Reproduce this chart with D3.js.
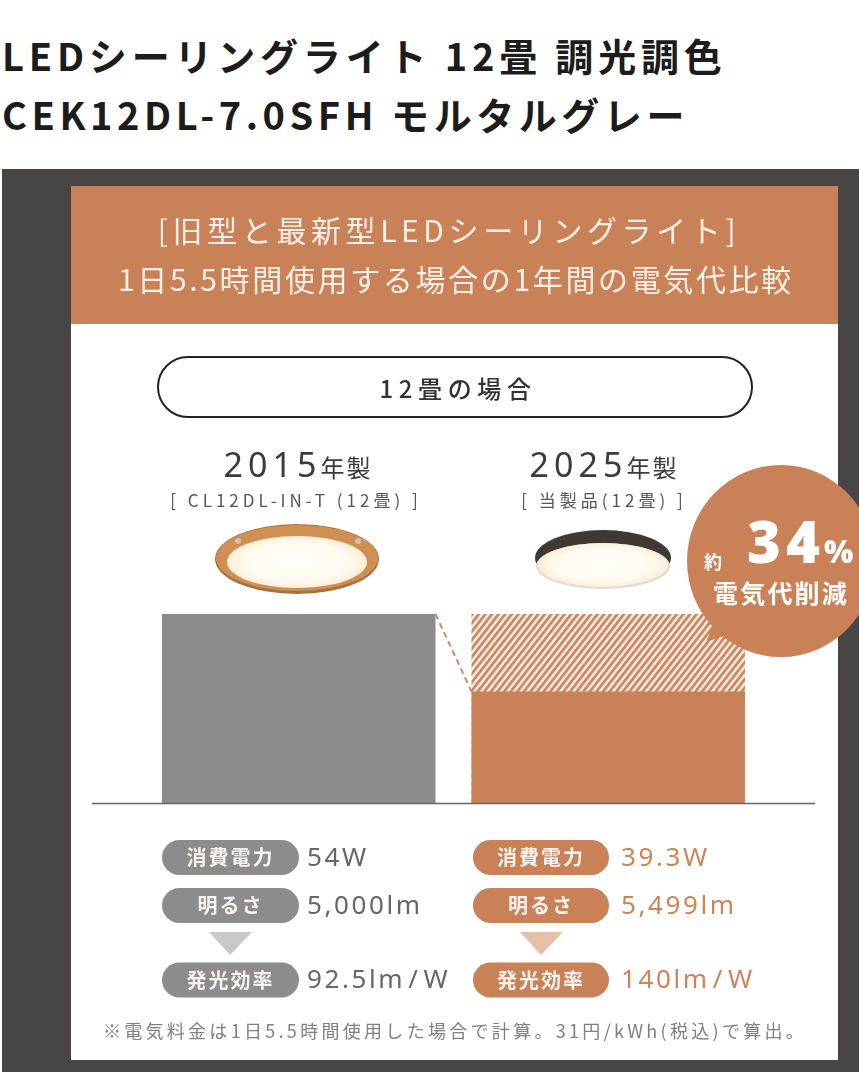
<!DOCTYPE html>
<html lang="ja"><head><meta charset="utf-8">
<script src="https://cdn.jsdelivr.net/npm/d3@7/dist/d3.min.js"></script>
<style>html,body{margin:0;padding:0;background:#fff}svg{display:block}</style></head>
<body><svg id="c" width="859" height="1080"></svg>
<script>
const titleLines = ["LEDシーリングライト 12畳 調光調色","CEK12DL-7.0SFH モルタルグレー"];
const headerLines = ["[旧型と最新型LEDシーリングライト]","1日5.5時間使用する場合の1年間の電気代比較"];
const capsule = "12畳の場合";
const years = ["2015","2025"];
const models = ["[ CL12DL-IN-T (12畳) ]","[ 当製品(12畳) ]"];
const barFull = [100,100];
const barSolid = [100,59];
const specLabels = ["消費電力","明るさ","発光効率"];
const specOld = ["54W","5,000lm","92.5lm/W"];
const specNew = ["39.3W","5,499lm","140lm/W"];
const note = "※電気料金は1日5.5時間使用した場合で計算。31円/kWh(税込)で算出。";

const ORANGE="#c98258", GREY="#8c8c8c", SANS="'Noto Sans CJK JP','Noto Sans',sans-serif";
const svg=d3.select("#c");
const defs=svg.append("defs");
const pat=defs.append("pattern").attr("id","hatch").attr("width",5.2).attr("height",5.2)
  .attr("patternUnits","userSpaceOnUse").attr("patternTransform","rotate(38)");
pat.append("rect").attr("width",5.2).attr("height",5.2).attr("fill","#fbf1ea");
pat.append("rect").attr("width",2.9).attr("height",5.2).attr("fill","#cc885f");
const rg=defs.append("radialGradient").attr("id","glow");
rg.append("stop").attr("offset","0%").attr("stop-color","#fffef9");
rg.append("stop").attr("offset","75%").attr("stop-color","#fffaf0");
rg.append("stop").attr("offset","100%").attr("stop-color","#fbeed6");
defs.append("filter").attr("id","soft").append("feGaussianBlur").attr("stdDeviation",0.45);

function txt(g,s,x,y,size,fill,o={}){
  return g.append("text").attr("x",x).attr("y",y).attr("font-size",size).attr("fill",fill)
   .attr("font-family",o.family||SANS).attr("font-weight",o.weight||400)
   .attr("letter-spacing",o.ls||0).attr("text-anchor",o.anchor||"start").text(s);
}
// title
txt(svg,titleLines[0],2,71,38,"#1c1c1c",{weight:700,ls:4.8});
txt(svg,titleLines[1],2,130,38,"#1c1c1c",{weight:700,ls:4.55});
// panel
svg.append("rect").attr("x",2).attr("y",169).attr("width",857).attr("height",903).attr("fill","#474645");
svg.append("rect").attr("x",71).attr("y",186).attr("width",767).attr("height",874).attr("fill","#fff");
svg.append("rect").attr("x",71).attr("y",186).attr("width",767).attr("height",138).attr("fill",ORANGE);
const art=svg.append("g").attr("filter","url(#soft)");
txt(art,headerLines[0],449,242,30,"#f8efe8",{anchor:"middle",weight:400,ls:4.6});
txt(art,headerLines[1],456,291,30,"#f8efe8",{anchor:"middle",weight:400,ls:2.65});
art.append("rect").attr("x",158).attr("y",357).attr("width",594).attr("height",60).attr("rx",30)
  .attr("fill","#fff").attr("stroke","#222").attr("stroke-width",2);
txt(art,capsule,458,398,24,"#333",{anchor:"middle",ls:5.6,weight:500});

// bars via scales
const x=d3.scaleBand().domain(years).range([162,745]).paddingInner(0.1163).paddingOuter(0);
const y=d3.scaleLinear().domain([0,100]).range([803,614]);
art.selectAll(".full").data(years).join("rect").attr("x",d=>x(d)).attr("width",x.bandwidth())
  .attr("y",(d,i)=>y(barFull[i])).attr("height",(d,i)=>y(0)-y(barFull[i]))
  .attr("fill",(d,i)=>i?"url(#hatch)":GREY);
art.selectAll(".solid").data(years.slice(1)).join("rect").attr("x",d=>x(d)).attr("width",x.bandwidth())
  .attr("y",y(barSolid[1])).attr("height",y(0)-y(barSolid[1])).attr("fill",ORANGE);
art.append("line").attr("x1",x(years[0])+x.bandwidth()).attr("x2",x(years[1]))
  .attr("y1",y(barSolid[0])).attr("y2",y(barSolid[1])).attr("stroke","#d9875c").attr("stroke-width",2).attr("stroke-dasharray","6 4");
art.append("line").attr("x1",92).attr("x2",815).attr("y1",803.5).attr("y2",803.5).attr("stroke","#666").attr("stroke-width",1.5);

// year + model
const yrX=[298,604], modX=[296,604];
years.forEach((yr,i)=>{
  const t=txt(art,yr,yrX[i],477,34,"#3a3a3a",{anchor:"middle",ls:5,weight:400,family:"'Noto Sans',sans-serif"});
  t.append("tspan").attr("font-size",24).attr("font-family",SANS).attr("letter-spacing",2).attr("dx",-1).text("年製");
  txt(art,models[i],modX[i],507,17,"#555",{anchor:"middle",ls:4.0,weight:400});
});
// lamps
const L1=art.append("g"), L2=art.append("g");
L1.append("ellipse").attr("cx",297).attr("cy",559).attr("rx",82).attr("ry",35).attr("fill","#a8703f");
L1.append("ellipse").attr("cx",297).attr("cy",558).attr("rx",81).attr("ry",33).attr("fill","#cf8f52");
L1.append("ellipse").attr("cx",297).attr("cy",562).attr("rx",70).attr("ry",26).attr("fill","url(#glow)");
[[238,541],[358,541]].forEach(p=>L1.append("circle").attr("cx",p[0]).attr("cy",p[1]).attr("r",3).attr("fill","#c9c2b6"));
L2.append("ellipse").attr("cx",603).attr("cy",558).attr("rx",68).attr("ry",28).attr("fill","#3f3733");
L2.append("ellipse").attr("cx",603).attr("cy",566).attr("rx",67).attr("ry",23).attr("fill","#dedcd6");
L2.append("ellipse").attr("cx",603).attr("cy",565).attr("rx",65).attr("ry",22).attr("fill","url(#glow)");

// bubble
art.append("path").attr("d","M716 620 L707 641 L735 632 Z").attr("fill",ORANGE).attr("stroke",ORANGE);
art.append("ellipse").attr("cx",781).attr("cy",561).attr("rx",94).attr("ry",96).attr("fill",ORANGE);
txt(art,"約",704,569,18,"#fff",{weight:700});
txt(art,"34",747,563,58,"#fff",{weight:900,ls:5,family:"'Noto Sans',sans-serif"});
txt(art,"%",824,563,31,"#fff",{weight:900,family:"'Noto Sans',sans-serif"});
txt(art,"電気代削減",781,603,25,"#fff",{anchor:"middle",weight:700,ls:2.2});

// specs
const rows=[857.5,905.5,980], pillX=[162,473], pillW=[137,136], valX=[307,621];
const sets=[specOld,specNew], fills=[GREY,ORANGE], valFill=["#666","#cf8358"];
sets.forEach((vals,c)=>{
  const g=art.append("g");
  g.selectAll("rect").data(specLabels).join("rect").attr("x",pillX[c]).attr("width",pillW[c]).attr("height",35).attr("rx",17.5)
    .attr("y",(d,i)=>rows[i]-17.5).attr("fill",fills[c]);
  g.selectAll(".lab").data(specLabels).join("text").attr("class","lab").attr("x",pillX[c]+pillW[c]/2).attr("y",(d,i)=>rows[i]+7.5)
    .attr("text-anchor","middle").attr("font-family",SANS).attr("font-size",20).attr("font-weight",700).attr("letter-spacing",2).attr("fill","#f7f2ee").text(d=>d);
  g.selectAll(".val").data(vals).join("text").attr("class","val").attr("x",valX[c]).attr("y",(d,i)=>rows[i]+8)
    .attr("font-family","'Noto Sans',sans-serif").attr("font-size",26).attr("font-weight",400).attr("letter-spacing",2.6).attr("fill",valFill[c])
    .each(function(d){
      const parts=d.split("/"), el=d3.select(this);
      el.append("tspan").text(parts[0]);
      if(parts[1]){ el.append("tspan").attr("dx",3).text("/"); el.append("tspan").attr("dx",3).text(parts[1]); }
    });
  art.append("path").attr("d",d3.line()([[pillX[c]+47,932],[pillX[c]+90,932],[pillX[c]+68,955]])+"Z").attr("fill",c?"#e5bfa8":"#c8c8c8");
});
txt(art,note,455,1038,18,"#808080",{anchor:"middle",weight:400,ls:3.3});
</script></body></html>
